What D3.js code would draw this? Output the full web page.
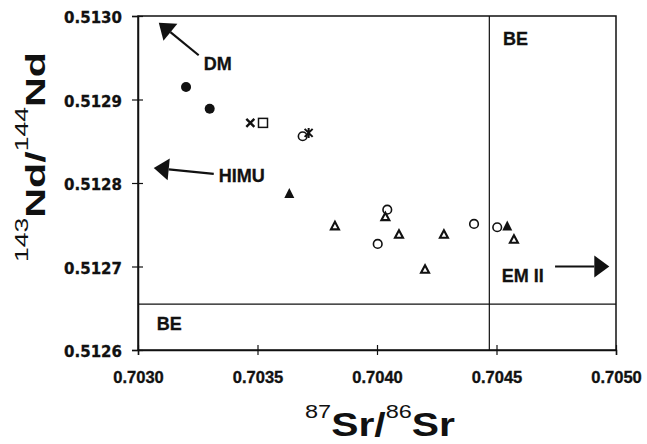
<!DOCTYPE html>
<html>
<head>
<meta charset="utf-8">
<script src="https://cdn.jsdelivr.net/npm/d3@7"></script>
<style>
  body { margin: 0; background: #fff; }
  svg { display: block; }
</style>
</head>
<body>
<div id="chart"></div>
<script>
// Sr-Nd isotope plot
const xTicks = [0.7030, 0.7035, 0.7040, 0.7045, 0.7050];
const yTicks = [0.5126, 0.5127, 0.5128, 0.5129, 0.5130];

// [87Sr/86Sr, 143Nd/144Nd]
const filledCircles = [[0.703201, 0.512915], [0.703300, 0.512889]];
const crosses = [[0.703470, 0.512872]];
const openSquares = [[0.703523, 0.512872]];
const asterisks = [[0.703714, 0.512860]];
const openCircles = [
  [0.703689, 0.512856], [0.704043, 0.512768], [0.704003, 0.512727],
  [0.704406, 0.512751], [0.704503, 0.512747]
];
const filledTriangles = [[0.703633, 0.512788], [0.704545, 0.512749]];
const openTriangles = [
  [0.703824, 0.512749], [0.704035, 0.512760], [0.704092, 0.512739],
  [0.704280, 0.512739], [0.704201, 0.512697], [0.704573, 0.512733]
];

// bulk earth reference lines
const beSr = 0.704470;
const beNd = 0.512655;

// mantle end-member labels and arrows: [x, y] in data units
const labels = [
  { text: "DM", at: [0.703275, 0.512935] },
  { text: "HIMU", at: [0.703338, 0.512801] },
  { text: "BE", at: [0.704527, 0.512965] },
  { text: "BE", at: [0.703078, 0.512624] },
  { text: "EM II", at: [0.704522, 0.512682] }
];
const arrows = [
  { from: [0.703254, 0.512953], to: [0.703087, 0.512992] },
  { from: [0.703317, 0.512811], to: [0.703066, 0.512818] },
  { from: [0.704745, 0.512700], to: [0.704972, 0.512700] }
];

const W = 647, H = 444;
const margin = { top: 16, right: 31, bottom: 94, left: 138 };
const width = W - margin.left - margin.right;
const height = H - margin.top - margin.bottom;
const ink = "#111";

const svg = d3.select("#chart").append("svg")
  .attr("width", W)
  .attr("height", H);

const g = svg.append("g")
  .attr("transform", `translate(${margin.left},${margin.top})`);

const x = d3.scaleLinear().domain([0.7030, 0.7050]).range([0, width]);
const y = d3.scaleLinear().domain([0.5126, 0.5130]).range([height, 0]);

// box
g.append("rect")
  .attr("width", width)
  .attr("height", height)
  .attr("fill", "none")
  .attr("stroke", ink)
  .attr("stroke-width", 1.5);

// reference lines
g.append("line")
  .attr("x1", x(beSr)).attr("x2", x(beSr))
  .attr("y1", 0).attr("y2", height)
  .attr("stroke", ink).attr("stroke-width", 1.2);
g.append("line")
  .attr("x1", 0).attr("x2", width)
  .attr("y1", y(beNd)).attr("y2", y(beNd))
  .attr("stroke", ink).attr("stroke-width", 1.2);

// axes
const xAxis = g.append("g")
  .attr("transform", `translate(0,${height})`)
  .call(d3.axisBottom(x).tickValues(xTicks).tickFormat(d3.format(".4f")).tickSizeOuter(0).tickSize(5));
const yAxis = g.append("g")
  .call(d3.axisLeft(y).tickValues(yTicks).tickFormat(d3.format(".4f")).tickSizeOuter(0).tickSize(6));

xAxis.select(".domain").attr("stroke", ink).attr("stroke-width", 1.5);
yAxis.select(".domain").attr("stroke", ink).attr("stroke-width", 1.5);
xAxis.selectAll(".tick line").attr("y1", -5).attr("stroke", ink).attr("stroke-width", 1.2);
yAxis.selectAll(".tick line").attr("x1", 5).attr("stroke", ink).attr("stroke-width", 1.2);

xAxis.selectAll(".tick text")
  .attr("y", 32.5).attr("dy", null)
  .attr("font-family", "'Liberation Sans', Arial, sans-serif")
  .attr("font-weight", "bold")
  .attr("font-size", "16.5px")
  .attr("fill", ink)
  .attr("stroke", ink).attr("stroke-width", 0.35);
yAxis.selectAll(".tick text")
  .attr("x", -16).attr("dy", "6.5")
  .attr("font-family", "'DejaVu Sans', sans-serif")
  .attr("font-weight", "bold")
  .attr("font-size", "15px")
  .attr("fill", ink)
  .attr("stroke", ink).attr("stroke-width", 0.3);

// markers
const plot = g.append("g");
const tri = (w, h) => `M0,${-h / 2}L${w / 2},${h / 2}L${-w / 2},${h / 2}Z`;

plot.selectAll(".fc").data(filledCircles).join("circle")
  .attr("cx", d => x(d[0])).attr("cy", d => y(d[1]))
  .attr("r", 5).attr("fill", ink);

plot.selectAll(".oc").data(openCircles).join("circle")
  .attr("cx", d => x(d[0])).attr("cy", d => y(d[1]))
  .attr("r", 4.3).attr("fill", "none").attr("stroke", ink).attr("stroke-width", 1.6);

plot.selectAll(".ft").data(filledTriangles).join("path")
  .attr("transform", d => `translate(${x(d[0])},${y(d[1])})`)
  .attr("d", tri(10, 10)).attr("fill", ink);

plot.selectAll(".ot").data(openTriangles).join("path")
  .attr("transform", d => `translate(${x(d[0])},${y(d[1])})`)
  .attr("d", tri(8, 7.5)).attr("fill", "none")
  .attr("stroke", ink).attr("stroke-width", 2.1).attr("stroke-linejoin", "miter");

plot.selectAll(".sq").data(openSquares).join("rect")
  .attr("x", d => x(d[0]) - 4.5).attr("y", d => y(d[1]) - 4.5)
  .attr("width", 9).attr("height", 9)
  .attr("fill", "none").attr("stroke", ink).attr("stroke-width", 1.5);

plot.selectAll(".cx").data(crosses).join("path")
  .attr("transform", d => `translate(${x(d[0])},${y(d[1])})`)
  .attr("d", "M-4,-4L4,4M-4,4L4,-4")
  .attr("stroke", ink).attr("stroke-width", 2.4);

plot.selectAll(".as").data(asterisks).join("path")
  .attr("transform", d => `translate(${x(d[0])},${y(d[1])})`)
  .attr("d", "M-4,-4L4,4M-4,4L4,-4M0,-5L0,5")
  .attr("stroke", ink).attr("stroke-width", 2);

// arrows with big filled heads
const arrowG = g.append("g");
arrows.forEach(a => {
  const x1 = x(a.from[0]), y1 = y(a.from[1]);
  const x2 = x(a.to[0]), y2 = y(a.to[1]);
  const ang = Math.atan2(y2 - y1, x2 - x1);
  const len = 15, half = 11;
  const bx = x2 - len * Math.cos(ang), by = y2 - len * Math.sin(ang);
  arrowG.append("line")
    .attr("x1", x1).attr("y1", y1).attr("x2", bx).attr("y2", by)
    .attr("stroke", ink).attr("stroke-width", 2.2);
  const px = -Math.sin(ang) * half, py = Math.cos(ang) * half;
  arrowG.append("path")
    .attr("d", `M${x2},${y2}L${bx + px},${by + py}L${bx - px},${by - py}Z`)
    .attr("fill", ink);
});

g.selectAll(".lbl").data(labels).join("text")
  .attr("x", d => x(d.at[0])).attr("y", d => y(d.at[1]))
  .attr("font-family", "'Liberation Sans', Arial, sans-serif")
  .attr("font-weight", "bold")
  .attr("font-size", "18px")
  .attr("fill", ink)
  .attr("stroke", ink).attr("stroke-width", 0.3)
  .text(d => d.text);

// axis titles, stretched to the width they have in the scan
const fitTitle = (parent, sup1, main1, sup2, main2, mainSize, supSize, lift, targetW) => {
  const t = parent.append("text")
    .attr("text-anchor", "middle")
    .attr("font-family", "'Liberation Sans', Arial, sans-serif")
    .attr("fill", ink);
  t.append("tspan").attr("font-size", supSize).attr("dy", -lift).text(sup1);
  t.append("tspan").attr("font-size", mainSize).attr("font-weight", "bold").attr("dy", lift).text(main1);
  t.append("tspan").attr("font-size", supSize).attr("dy", -lift).text(sup2);
  t.append("tspan").attr("font-size", mainSize).attr("font-weight", "bold").attr("dy", lift).text(main2);
  const w = t.node().getComputedTextLength();
  t.attr("transform", `scale(${targetW / w},1)`);
  return t;
};

fitTitle(svg.append("g").attr("transform", "translate(380,436)"),
  "87", "Sr/", "86", "Sr", "33px", "19px", 18, 150);

fitTitle(svg.append("g").attr("transform", "translate(45,157) rotate(-90)"),
  "143", "Nd/", "144", "Nd", "28px", "18px", 17, 210);
</script>
</body>
</html>
